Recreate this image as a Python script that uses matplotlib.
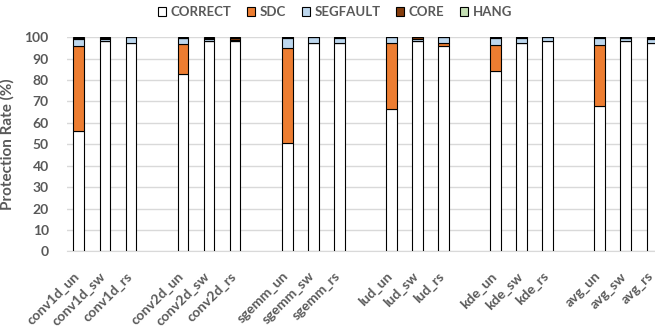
import matplotlib.pyplot as plt
import matplotlib.transforms as mtransforms
import numpy as np

plt.rcParams['font.family'] = ['Lato', 'DejaVu Sans']

# data (stacked, % of runs)
labels = ["conv1d_un", "conv1d_sw", "conv1d_rs",
          "conv2d_un", "conv2d_sw", "conv2d_rs",
          "sgemm_un", "sgemm_sw", "sgemm_rs",
          "lud_un", "lud_sw", "lud_rs",
          "kde_un", "kde_sw", "kde_rs",
          "avg_un", "avg_sw", "avg_rs"]
correct  = [56.0, 98.0, 97.5, 83.0, 98.0, 98.0, 50.5, 97.5, 97.3, 66.5, 98.0, 96.0, 84.0, 97.5, 98.0, 68.0, 98.0, 97.5]
sdc      = [40.0, 0.0, 0.0, 13.8, 0.0, 0.0, 44.5, 0.0, 0.0, 31.0, 0.0, 1.5, 12.5, 0.0, 0.0, 28.5, 0.0, 0.0]
segfault = [3.0, 1.0, 2.5, 2.7, 1.3, 0.8, 4.7, 2.5, 2.2, 2.5, 1.3, 2.5, 3.0, 2.0, 2.0, 3.0, 1.5, 1.8]
core     = [0.5, 0.5, 0.0, 0.3, 0.5, 1.0, 0.2, 0.0, 0.5, 0.0, 0.7, 0.0, 0.4, 0.5, 0.0, 0.4, 0.3, 0.5]
hang     = [0.5, 0.5, 0.0, 0.2, 0.2, 0.2, 0.1, 0.0, 0.0, 0.0, 0.0, 0.0, 0.1, 0.0, 0.0, 0.1, 0.2, 0.2]

series = [("CORRECT", correct, "#FFFFFF"),
          ("SDC", sdc, "#ED7D31"),
          ("SEGFAULT", segfault, "#BDD7EE"),
          ("CORE", core, "#843C0C"),
          ("HANG", hang, "#C5E0B4")]

# 3 bars per group, one empty slot between groups
pos = np.array([g * 4 + i for g in range(6) for i in range(3)])

fig = plt.figure(figsize=(6.55, 3.29), dpi=100)
ax = fig.add_axes([0.102, 0.236, 0.898, 0.651])

txt = "#595959"
bottom = np.zeros(len(labels))
for name, vals, col in series:
    vals = np.array(vals)
    ax.bar(pos, vals, 0.41, bottom=bottom, color=col, edgecolor="black",
           linewidth=0.8, label=name, zorder=3)
    bottom += vals

ax.set_xlim(-0.46, 22.12)
ax.set_ylim(0, 100)
ax.set_yticks(range(0, 101, 10))
ax.yaxis.grid(True, color="#D9D9D9", linewidth=1, zorder=0)
for s in ["top", "right", "left"]:
    ax.spines[s].set_visible(False)
ax.spines["bottom"].set_color("#D9D9D9")
ax.tick_params(axis="both", length=0, colors=txt, labelsize=10)
ax.tick_params(axis="y", pad=13)
ax.set_xticks(pos)
ax.set_xticklabels(labels, rotation=45, ha="right", va="center",
                   rotation_mode="anchor", fontweight="bold")
shift = mtransforms.ScaledTranslation(-1 / 100, -18 / 100, fig.dpi_scale_trans)
for t in ax.get_xticklabels():
    t.set_transform(t.get_transform() + shift)
for t in ax.get_yticklabels():
    t.set_fontweight("bold")
ax.set_ylabel("Protection Rate (%)", fontsize=11, fontweight="bold", color=txt,
              labelpad=7)

handles, names = ax.get_legend_handles_labels()
leg = fig.legend(handles, names, loc="center", bbox_to_anchor=(335 / 655, 1 - 12 / 329),
                 ncol=5, frameon=False, fontsize=9.5, handlelength=0.6, handleheight=0.6,
                 handletextpad=0.35, columnspacing=1.2, borderpad=0)
for t in leg.get_texts():
    t.set_color(txt)
    t.set_fontweight("bold")

fig.savefig("out.png", dpi=100)
